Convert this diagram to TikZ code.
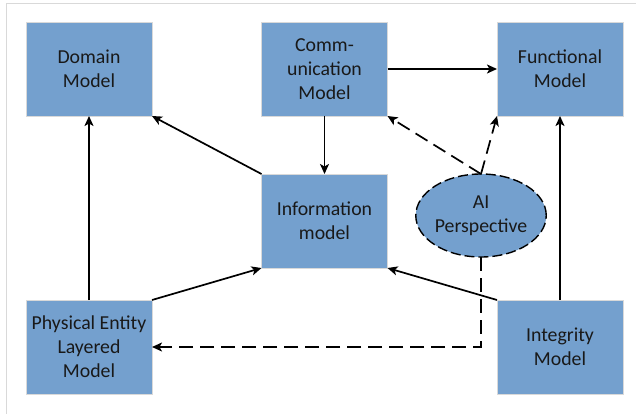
\documentclass[tikz,border=0pt]{standalone}
\usepackage{fontspec}
\setmainfont{Carlito}
\usetikzlibrary{arrows.meta,shapes.geometric}
\definecolor{boxblue}{RGB}{116,160,206}
\definecolor{framegray}{RGB}{217,217,217}
\begin{document}
\begin{tikzpicture}[x=1pt,y=-1pt,
  model/.style={rectangle,fill=boxblue,draw=black!15,line width=0.6pt,minimum width=126pt,minimum height=94pt,inner sep=2pt,outer sep=0pt,align=center,text=black!90,font=\fontsize{19.8}{24}\selectfont},
  aiell/.style={ellipse,fill=boxblue,draw=black,line width=1.4pt,dash pattern=on 10pt off 4pt,minimum width=126pt,minimum height=83pt,inner sep=0pt,outer sep=0pt,align=center,text=black!90,font=\fontsize{19.8}{24}\selectfont},
  link/.style={line width=1.7pt,-{Stealth[length=10pt,width=9pt,inset=2.5pt]}},
  dlink/.style={link,dash pattern=on 14pt off 7pt}]
\useasboundingbox (0,0) rectangle (636,414);
\draw[framegray,line width=0.8pt] (6,414) -- (6,3) -- (636,3);
\node[model] (dom) at (89,69) {Domain\\Model};
\node[model] (com) at (324.5,69) {Comm-\\unication\\Model};
\node[model] (fun) at (560,69) {Functional\\Model};
\node[model] (inf) at (324.5,221) {Information\\model};
\node[model] (phy) at (89,347) {Physical Entity\\Layered\\Model};
\node[model] (int) at (560,347) {Integrity\\Model};
\node[aiell] (ai) at (481,215.5) {AI\\Perspective};
\draw[link] (com.east) -- (fun.west);
\draw[link] (com.south) -- (inf.north);
\draw[link] (inf.north west) -- (dom.south east);
\draw[link] (phy.north) -- (dom.south);
\draw[link] (phy.north east) -- (inf.south west);
\draw[link] (int.north west) -- (inf.south east);
\draw[link] (int.north) -- (fun.south);
\draw[dlink] (ai.north) -- (com.south east);
\draw[dlink] (ai.north) -- (fun.south west);
\draw[dlink] (ai.south) -- (ai.south |- phy.east) -- (phy.east);
\end{tikzpicture}
\end{document}
